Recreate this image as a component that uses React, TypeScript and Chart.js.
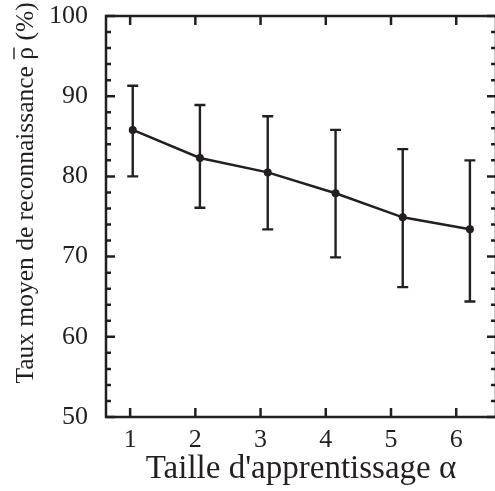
import React, { useEffect, useRef } from "react";
import { Chart, registerables } from "chart.js";

Chart.register(...registerables);

// ---- data ----
const xPositions = [1.04, 2.07, 3.11, 4.15, 5.18, 6.21];
const meanRate = [85.8, 82.3, 80.5, 77.9, 74.9, 73.4];
const lowRate = [80.0, 76.1, 73.4, 69.9, 66.2, 64.4];
const highRate = [91.3, 88.9, 87.5, 85.8, 83.4, 82.0];
const xTickValues = [1, 2, 3, 4, 5, 6];
const yTickValues = [50, 60, 70, 80, 90, 100];
const yMinorTickValues = [52, 54, 56, 58, 62, 64, 66, 68, 72, 74, 76, 78, 82, 84, 86, 88, 92, 94, 96, 98];
const xTitle = "Taille d'apprentissage α";
const yTitleBefore = "Taux moyen de reconnaissance ";
const yTitleSymbol = "ρ";
const yTitleAfter = " (%)";

const INK = "#231f20";
const FAMILY = "'Liberation Serif', 'Times New Roman', serif";

const errorBarPlugin = {
  id: "errorBars",
  beforeDatasetsDraw(chart: any) {
    const { ctx, scales } = chart;
    const x = scales.x;
    const y = scales.y;
    ctx.save();
    ctx.strokeStyle = INK;
    ctx.lineWidth = 2.4;
    ctx.lineCap = "butt";
    for (let i = 0; i < xPositions.length; i++) {
      const px = x.getPixelForValue(xPositions[i]);
      const pLo = y.getPixelForValue(lowRate[i]);
      const pHi = y.getPixelForValue(highRate[i]);
      ctx.beginPath();
      ctx.moveTo(px, pLo);
      ctx.lineTo(px, pHi);
      ctx.moveTo(px - 5.5, pLo);
      ctx.lineTo(px + 5.5, pLo);
      ctx.moveTo(px - 5.5, pHi);
      ctx.lineTo(px + 5.5, pHi);
      ctx.stroke();
    }
    ctx.restore();
  },
};

const framePlugin = {
  id: "frame",
  afterDraw(chart: any) {
    const { ctx, chartArea, scales } = chart;
    const { left, right, top, bottom } = chartArea;
    const x = scales.x;
    const y = scales.y;
    ctx.save();
    ctx.strokeStyle = INK;
    ctx.lineWidth = 2.5;
    ctx.strokeRect(left, top, right - left, bottom - top);
    ctx.beginPath();
    for (const v of xTickValues) {
      const px = x.getPixelForValue(v);
      ctx.moveTo(px, bottom);
      ctx.lineTo(px, bottom - 9);
      ctx.moveTo(px, top);
      ctx.lineTo(px, top + 9);
    }
    for (const v of yTickValues) {
      const py = y.getPixelForValue(v);
      ctx.moveTo(left, py);
      ctx.lineTo(left + 9, py);
      ctx.moveTo(right, py);
      ctx.lineTo(right - 9, py);
    }
    for (const v of yMinorTickValues) {
      const py = y.getPixelForValue(v);
      ctx.moveTo(left, py);
      ctx.lineTo(left + 5, py);
      ctx.moveTo(right, py);
      ctx.lineTo(right - 5, py);
    }
    ctx.stroke();

    // y-axis title (rotated), with an overline above rho
    ctx.fillStyle = INK;
    ctx.font = `25.5px ${FAMILY}`;
    ctx.textAlign = "left";
    ctx.textBaseline = "alphabetic";
    const full = yTitleBefore + yTitleSymbol + yTitleAfter;
    const wFull = ctx.measureText(full).width;
    const wBefore = ctx.measureText(yTitleBefore).width;
    const wSym = ctx.measureText(yTitleSymbol).width;
    ctx.translate(33, 193);
    ctx.rotate(-Math.PI / 2);
    const x0 = -wFull / 2;
    ctx.fillText(full, x0, 0);
    ctx.lineWidth = 1.4;
    ctx.beginPath();
    ctx.moveTo(x0 + wBefore + 0.5, -19);
    ctx.lineTo(x0 + wBefore + wSym - 0.5, -19);
    ctx.stroke();
    ctx.restore();
  },
};

export default function App() {
  const ref = useRef<HTMLCanvasElement | null>(null);

  useEffect(() => {
    if (!ref.current) return;
    const chart = new Chart(ref.current, {
      type: "line",
      data: {
        datasets: [
          {
            data: xPositions.map((xv, i) => ({ x: xv, y: meanRate[i] })),
            borderColor: INK,
            backgroundColor: INK,
            borderWidth: 2.5,
            pointRadius: 4,
            pointBorderWidth: 0,
            pointBackgroundColor: INK,
            tension: 0,
          },
        ],
      },
      options: {
        animation: false,
        responsive: false,
        layout: { padding: { top: 16, right: 3, left: 0, bottom: 0 } },
        plugins: { legend: { display: false }, tooltip: { enabled: false } },
        scales: {
          x: {
            type: "linear",
            min: 0.63,
            max: 6.61,
            afterBuildTicks: (s: any) => {
              s.ticks = xTickValues.map((v) => ({ value: v }));
            },
            afterFit: (s: any) => {
              s.height = 74;
              s.paddingLeft = 0;
              s.paddingRight = 0;
            },
            grid: { display: false, drawTicks: false },
            border: { display: false },
            ticks: {
              color: INK,
              font: { family: FAMILY, size: 26 },
              padding: 8,
              maxRotation: 0,
              autoSkip: false,
              callback: (v: any) => String(v),
            },
            title: {
              display: true,
              text: xTitle,
              color: INK,
              font: { family: FAMILY, size: 33 },
              padding: { top: 0, bottom: 2 },
            },
          },
          y: {
            type: "linear",
            min: 50,
            max: 100,
            afterBuildTicks: (s: any) => {
              s.ticks = yTickValues.map((v) => ({ value: v }));
            },
            afterFit: (s: any) => {
              s.width = 106;
              s.paddingTop = 0;
              s.paddingBottom = 0;
            },
            grid: { display: false, drawTicks: false },
            border: { display: false },
            ticks: {
              color: INK,
              font: { family: FAMILY, size: 26 },
              padding: 18,
              callback: (v: any) => String(v),
            },
          },
        },
      },
      plugins: [errorBarPlugin, framePlugin],
    });
    return () => chart.destroy();
  }, []);

  return (
    <div
      style={{
        position: "fixed",
        left: 0,
        top: 0,
        width: 495,
        height: 491,
        overflow: "hidden",
        background: "#fff",
      }}
    >
      <canvas ref={ref} width={500} height={491} style={{ display: "block", width: 500, height: 491 }} />
    </div>
  );
}
